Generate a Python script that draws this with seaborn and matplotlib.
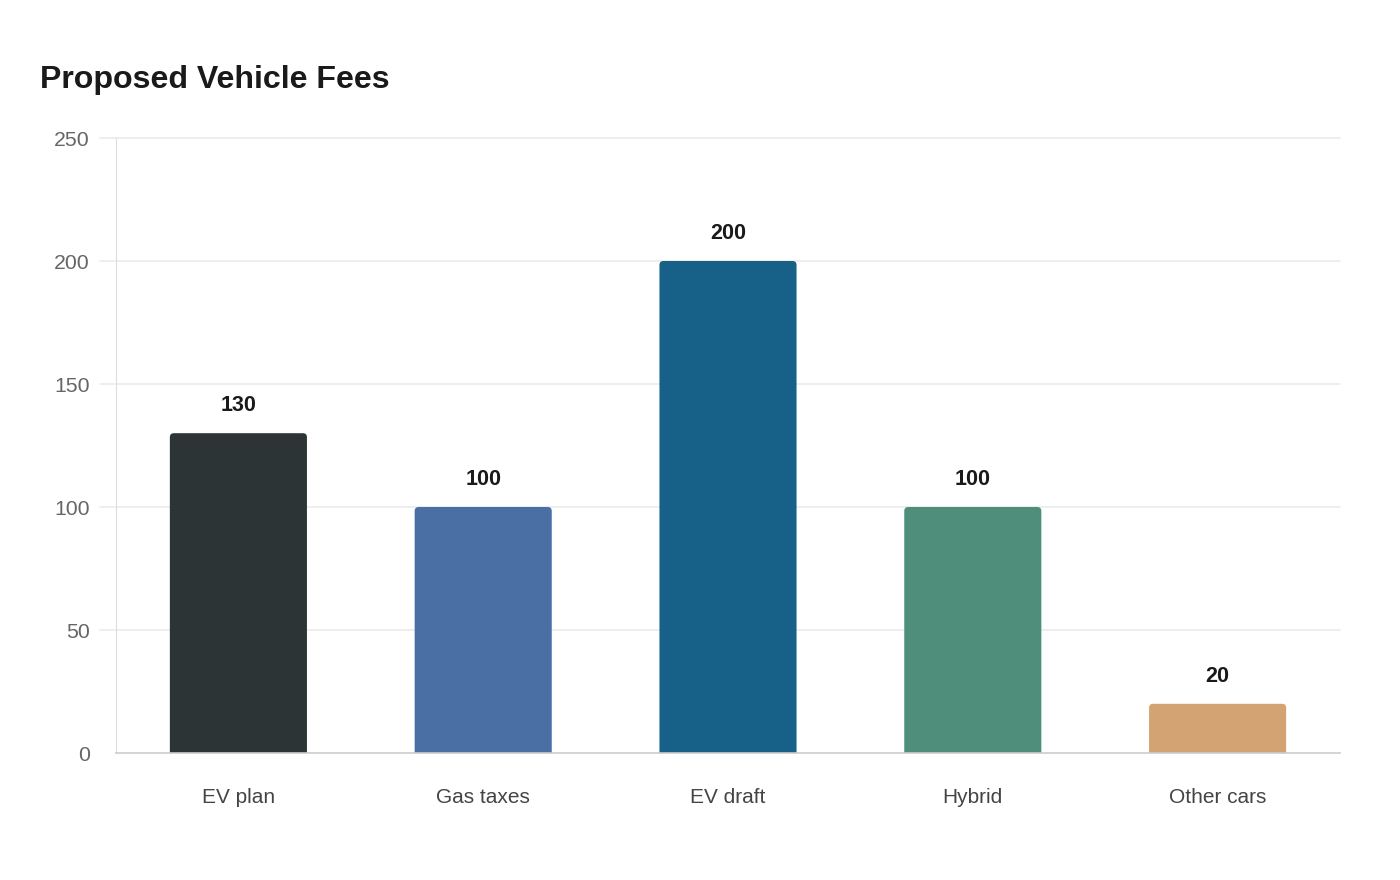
import matplotlib
matplotlib.use("Agg")
import matplotlib.pyplot as plt
import seaborn as sns
import pandas as pd
from matplotlib.patches import FancyBboxPatch

categories = ["EV plan", "Gas taxes", "EV draft", "Hybrid", "Other cars"]
values = [130, 100, 200, 100, 20]
colors = ["#2d3436", "#4a6fa5", "#176087", "#4e8e7b", "#d4a373"]
y_ticks = [0, 50, 100, 150, 200, 250]

sns.set_theme(style="white")
plt.rcParams["font.family"] = ["Liberation Sans", "DejaVu Sans"]

df = pd.DataFrame({"category": categories, "value": values})

W, H = 1400, 880
ax_l, ax_r, ax_t, ax_b = 116, 1340, 138, 753
fig = plt.figure(figsize=(W / 100, H / 100), dpi=100)
ax = fig.add_axes([ax_l / W, 1 - ax_b / H, (ax_r - ax_l) / W, (ax_b - ax_t) / H])

sns.barplot(data=df, x="category", y="value", hue="category", palette=colors,
            legend=False, width=0.56, ax=ax, saturation=1)

ax.set_xlim(-0.5, len(categories) - 0.5)
ax.set_ylim(0, 250)

# rounded top corners (bottom corners pushed below the axis and clipped)
x_per_px = len(categories) / (ax_r - ax_l)
y_per_px = 250 / (ax_b - ax_t)
radius = 4 * x_per_px
ext = 10 * y_per_px
for p in list(ax.patches):
    x, y = p.get_x(), p.get_y()
    w, h = p.get_width(), p.get_height()
    fc = p.get_facecolor()
    p.remove()
    rp = FancyBboxPatch((x, y - ext), w, h + ext,
                        boxstyle=f"round,pad=0,rounding_size={radius}",
                        mutation_aspect=y_per_px / x_per_px,
                        facecolor=fc, edgecolor="none", zorder=2)
    ax.add_patch(rp)
    rp.set_clip_path(ax.patch)

ax.set_yticks(y_ticks)
ax.set_xlabel("")
ax.set_ylabel("")

for yv in y_ticks[1:]:
    ax.axhline(yv, xmin=-0.013, xmax=1, color="#ebebeb", lw=1.2, zorder=0, clip_on=False)

for s in ["top", "right"]:
    ax.spines[s].set_visible(False)
ax.spines["left"].set_color("#dddddd")
ax.spines["left"].set_linewidth(0.8)
ax.spines["bottom"].set_color("#cccccc")
ax.spines["bottom"].set_linewidth(1.2)
ax.spines["bottom"].set_zorder(3)

ax.tick_params(axis="y", length=0, pad=19, labelsize=15.3, labelcolor="#666666")
ax.tick_params(axis="x", length=0, pad=25, labelsize=15, labelcolor="#444444")

for i, v in enumerate(values):
    ax.annotate(str(v), (i, v), xytext=(0, 19.6), textcoords="offset points",
                ha="center", va="center", fontsize=15.5, fontweight="bold", color="#1a1a1a")

fig.text(40 / W, 1 - 80 / H, "Proposed Vehicle Fees", fontsize=23.1, fontweight="bold",
         color="#1a1a1a", ha="left", va="center")

fig.savefig("out.png", dpi=100, facecolor="white")
